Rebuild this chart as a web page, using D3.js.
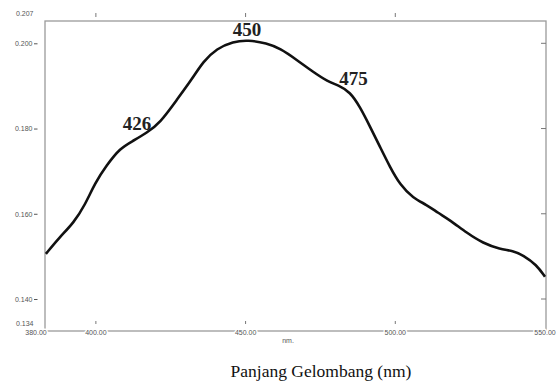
<!DOCTYPE html>
<html>
<head>
<meta charset="utf-8">
<script src="https://cdn.jsdelivr.net/npm/d3@7"></script>
<style>
  body { margin: 0; background: #fff; }
  svg { display: block; }
  .lbl { font-family: "Liberation Sans", Arial, sans-serif; font-size: 7px; fill: #555; }
  .peak { font-family: "Liberation Serif", "Times New Roman", serif; font-weight: bold; font-size: 19px; fill: #222; }
</style>
</head>
<body>
<div id="chart"></div>
<script>
// wavelength (nm) and absorbance
const wavelength = [383.3, 388.0, 392.5, 396.4, 399.7, 403.6, 408.1, 412.4, 417.0, 421.4,
  427.0, 432.4, 435.8, 440.4, 445.8, 450.8, 457.1, 461.5, 467.1, 472.5,
  477.5, 480.9, 484.9, 488.2, 491.6, 494.9, 498.2, 501.6, 505.9, 510.5,
  514.3, 518.3, 523.9, 529.3, 535.0, 539.3, 542.7, 547.2, 550.0]
const absorbance = [0.1506, 0.1546, 0.1578, 0.1621, 0.1672, 0.1714, 0.1754, 0.1771, 0.1790, 0.1813,
  0.1867, 0.1919, 0.1957, 0.1988, 0.2004, 0.2008, 0.2000, 0.1988, 0.1961, 0.1933,
  0.1910, 0.1902, 0.1886, 0.1851, 0.1804, 0.1757, 0.1710, 0.1668, 0.1637, 0.1621,
  0.1602, 0.1585, 0.1555, 0.1531, 0.1517, 0.1513, 0.1503, 0.1480, 0.1452]

const yTicks = [0.200, 0.180, 0.160, 0.140]
const yEnds = [0.207, 0.134]
const xLabels = [380, 400, 450, 500, 550]
const xTicks = [400, 450, 500]

// peak labels: text, and where the text sits (nm, absorbance)
const peakText = ["426", "450", "475"]
const peakNm = [413.7, 450.5, 486.0]
const peakAbs = [0.1796, 0.2017, 0.1901]

const width = 558, height = 383
const frame = {left: 45, right: 546, top: 21, bottom: 331}

const x = d3.scaleLinear().domain([380, 550]).range([36, 545])
const y = d3.scaleLinear().domain([0.140, 0.200]).range([299, 43.3])

const svg = d3.select("#chart").append("svg")
    .attr("width", width)
    .attr("height", height)

// frame
svg.append("rect")
    .attr("x", frame.left).attr("y", frame.top)
    .attr("width", frame.right - frame.left)
    .attr("height", frame.bottom - frame.top)
    .attr("fill", "none")
    .attr("stroke", "#9a9a9a")
    .attr("stroke-width", 1.3)

// left labels with dashes
const yAxis = svg.append("g")
    .attr("transform", "translate(37.5,0)")
    .call(d3.axisLeft(y).tickValues(yTicks).tickFormat(d3.format(".3f")).tickSize(3.5).tickPadding(1.5))
yAxis.select(".domain").remove()
yAxis.selectAll("line").attr("stroke", "#555")
yAxis.selectAll("text").attr("class", "lbl").attr("font-size", null).attr("font-family", null)

// end values top and bottom, no dash (bottom one nudged up off the x labels)
svg.append("g").selectAll("text")
    .data(yEnds)
    .join("text")
    .attr("class", "lbl")
    .attr("x", 16)
    .attr("y", (d, i) => y(d) - i * 1)
    .attr("dy", "0.35em")
    .text(d => d3.format(".3f")(d))

// inner ticks on the right edge
svg.append("g").selectAll("line")
    .data(yTicks)
    .join("line")
    .attr("x1", frame.right - 5).attr("x2", frame.right)
    .attr("y1", d => y(d)).attr("y2", d => y(d))
    .attr("stroke", "#777").attr("stroke-width", 1)

// little tick marks above the frame and above the bottom line
svg.append("g").selectAll("line")
    .data(xTicks)
    .join("line")
    .attr("x1", d => x(d)).attr("x2", d => x(d))
    .attr("y1", 13).attr("y2", 17)
    .attr("stroke", "#777").attr("stroke-width", 1)
svg.append("g").selectAll("line")
    .data(xTicks)
    .join("line")
    .attr("x1", d => x(d)).attr("x2", d => x(d))
    .attr("y1", frame.bottom - 10).attr("y2", frame.bottom - 7)
    .attr("stroke", "#777").attr("stroke-width", 1)

// x labels sit on the bottom line
svg.append("g").selectAll("text")
    .data(xLabels)
    .join("text")
    .attr("class", "lbl")
    .attr("x", d => x(d))
    .attr("y", frame.bottom + 2)
    .attr("dy", "0.35em")
    .attr("text-anchor", "middle")
    .attr("stroke", "#fff").attr("stroke-width", 3).attr("paint-order", "stroke")
    .text(d => d3.format(".2f")(d))

svg.append("text")
    .attr("class", "lbl")
    .attr("x", 288).attr("y", frame.bottom + 12)
    .attr("text-anchor", "middle")
    .attr("font-size", "6.5px")
    .text("nm.")

// spectrum
const line = d3.line()
    .x((d, i) => x(wavelength[i]))
    .y(d => y(d))
    .curve(d3.curveBasis)

svg.append("path")
    .datum(absorbance)
    .attr("fill", "none")
    .attr("stroke", "#111")
    .attr("stroke-width", 2.6)
    .attr("stroke-linejoin", "round")
    .attr("d", line)

svg.append("g").selectAll("text")
    .data(peakText)
    .join("text")
    .attr("class", "peak")
    .attr("x", (d, i) => x(peakNm[i]))
    .attr("y", (d, i) => y(peakAbs[i]))
    .attr("text-anchor", "middle")
    .text(d => d)

// axis title
svg.append("text")
    .attr("x", 321).attr("y", 377)
    .attr("text-anchor", "middle")
    .attr("font-family", "'Liberation Serif', 'Times New Roman', serif")
    .attr("font-size", "17.5px")
    .attr("fill", "#111")
    .text("Panjang Gelombang (nm)")
</script>
</body>
</html>
